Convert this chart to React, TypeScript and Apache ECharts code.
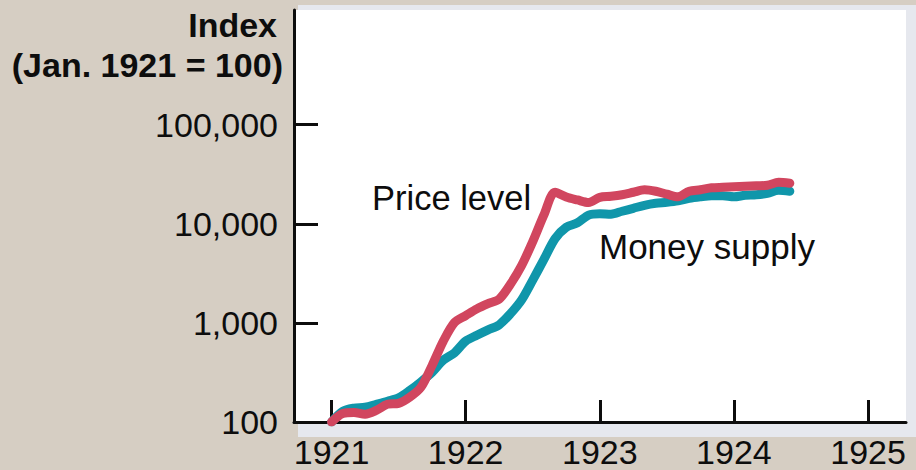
import React, { useEffect, useRef } from 'react';
import * as echarts from 'echarts';

// Monthly observations, Jan. 1921 = 100
const months = [
  '1921-01', '1921-02', '1921-03', '1921-04', '1921-05', '1921-06', '1921-07', '1921-08', '1921-09', '1921-10', '1921-11', '1921-12',
  '1922-01', '1922-02', '1922-03', '1922-04', '1922-05', '1922-06', '1922-07', '1922-08', '1922-09', '1922-10', '1922-11', '1922-12',
  '1923-01', '1923-02', '1923-03', '1923-04', '1923-05', '1923-06', '1923-07', '1923-08', '1923-09', '1923-10', '1923-11', '1923-12',
  '1924-01', '1924-02', '1924-03', '1924-04', '1924-05', '1924-06',
];

const priceLevel = [
  100, 122, 125, 120, 131, 151, 154, 178, 224, 373, 655, 1010,
  1185, 1385, 1565, 1740, 2450, 3780, 6600, 12270, 20800, 18620, 17380, 16400,
  18500, 18940, 19630, 20800, 22030, 21290, 19860, 18720, 21290, 22030, 23070, 23350,
  23620, 23890, 24170, 24450, 26230, 25630,
];

const moneySupply = [
  100, 128, 138, 141, 151, 162, 175, 208, 254, 317, 420, 499,
  655, 750, 850, 957, 1236, 1700, 2700, 4373, 7090, 9230, 10230, 12240,
  12610, 12500, 13370, 14330, 15370, 16100, 16480, 17060, 18080, 18720, 19170, 19170,
  18720, 19400, 19630, 20320, 21780, 21290,
];

const yearTicks = [1921, 1922, 1923, 1924, 1925];
const indexTicks = [100, 1000, 10000, 100000];

const FONT = '"Liberation Sans", Arial, Helvetica, sans-serif';
const INK = '#0d0d0d';

function toYear(m: string): number {
  const [y, mo] = m.split('-').map(Number);
  return y + (mo - 1) / 12;
}

function withCommas(v: number): string {
  return String(Math.round(v)).replace(/\B(?=(\d{3})+(?!\d))/g, ',');
}

export default function App() {
  const ref = useRef<HTMLDivElement>(null);

  useEffect(() => {
    document.body.style.margin = '0';
    const chart = echarts.init(ref.current!, null, { renderer: 'svg' });

    const priceData = months.map((m, i) => [toYear(m), priceLevel[i]]);
    const moneyData = months.map((m, i) => [toYear(m), moneySupply[i]]);

    chart.setOption({
      animation: false,
      backgroundColor: '#d6cec3',
      grid: { left: 294, right: 10, top: 10, bottom: 48, containLabel: false },
      graphic: [
        { type: 'rect', z: -10, shape: { x: 298, y: 5, width: 618, height: 432 }, style: { fill: '#e6e8ee' }, silent: true },
        { type: 'rect', z: -9, shape: { x: 294, y: 10, width: 612, height: 412 }, style: { fill: '#ffffff' }, silent: true },
        {
          type: 'text', z: 10, x: 277, y: 25,
          style: { text: 'Index', fontSize: 34, fontWeight: 'bold', fontFamily: FONT, fill: INK, align: 'right', verticalAlign: 'middle' },
        },
        {
          type: 'text', z: 10, x: 283, y: 65,
          style: { text: '(Jan. 1921 = 100)', fontSize: 34, fontWeight: 'bold', fontFamily: FONT, fill: INK, align: 'right', verticalAlign: 'middle' },
        },
        {
          type: 'text', z: 10, x: 372, y: 198,
          style: { text: 'Price level', fontSize: 34.5, fontFamily: FONT, fill: INK, align: 'left', verticalAlign: 'middle' },
        },
        {
          type: 'text', z: 10, x: 599, y: 246,
          style: { text: 'Money supply', fontSize: 35, fontFamily: FONT, fill: INK, align: 'left', verticalAlign: 'middle' },
        },
      ],
      xAxis: {
        type: 'value',
        min: 1920.72,
        max: 1925.283,
        axisLine: { show: true, onZero: false, lineStyle: { color: INK, width: 3 } },
        axisTick: { show: true, inside: true, length: 22, customValues: yearTicks, lineStyle: { color: INK, width: 3 } },
        axisLabel: {
          customValues: yearTicks,
          margin: 13,
          fontSize: 34,
          fontFamily: FONT,
          color: INK,
          formatter: (v: number) => String(Math.round(v)),
        },
        splitLine: { show: false },
      },
      yAxis: {
        type: 'log',
        logBase: 10,
        min: 100,
        max: 1435000,
        axisLine: { show: true, lineStyle: { color: INK, width: 3 } },
        axisTick: { show: true, inside: true, length: 24, customValues: indexTicks, lineStyle: { color: INK, width: 3 } },
        axisLabel: {
          customValues: indexTicks,
          margin: 16,
          fontSize: 34,
          fontFamily: FONT,
          color: INK,
          formatter: (v: number) => withCommas(v),
        },
        splitLine: { show: false },
      },
      series: [
        {
          name: 'Money supply',
          type: 'line',
          data: moneyData,
          showSymbol: false,
          symbol: 'none',
          smooth: 0.3,
          z: 3,
          lineStyle: { color: '#1096aa', width: 9, cap: 'round', join: 'round' },
        },
        {
          name: 'Price level',
          type: 'line',
          data: priceData,
          showSymbol: false,
          symbol: 'none',
          smooth: 0.3,
          z: 4,
          lineStyle: { color: '#d1465f', width: 9, cap: 'round', join: 'round' },
        },
      ],
    });

    return () => chart.dispose();
  }, []);

  return <div ref={ref} style={{ width: 916, height: 470 }} />;
}
